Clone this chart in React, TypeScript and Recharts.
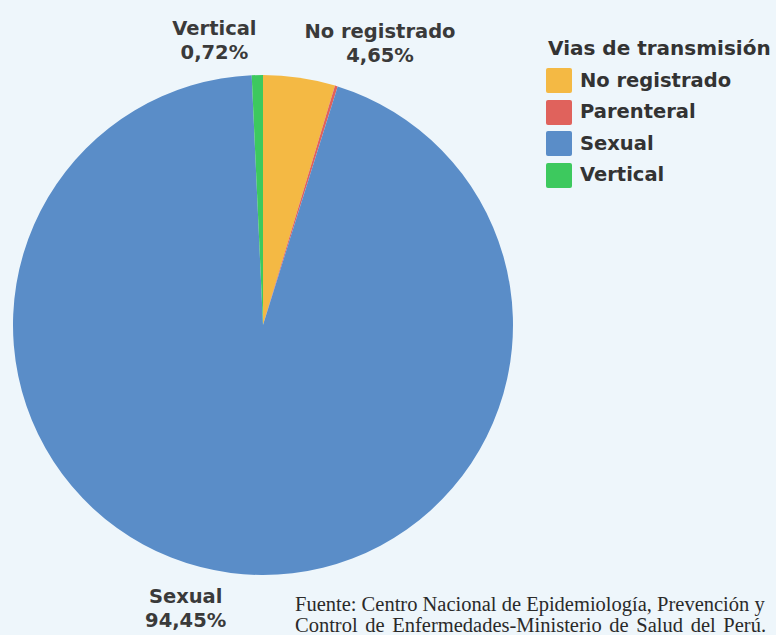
import React from 'react';
import { PieChart, Pie, Cell, Legend } from 'recharts';

const categories = ['No registrado', 'Parenteral', 'Sexual', 'Vertical'];
const percentages = [4.65, 0.18, 94.45, 0.72];
const sliceColors = ['#F4B944', '#E0625C', '#5A8DC8', '#3DC95E'];
const legendTitle = 'Vias de transmisión';
const sourceLines = [
  'Fuente: Centro Nacional de Epidemiología, Prevención y',
  'Control de Enfermedades-Ministerio de Salud del Perú.',
];

const data = categories.map((name, i) => ({ name, value: percentages[i] }));

const LABEL_FONT = '"DejaVu Sans", Verdana, sans-serif';
const LABEL_SIZE = 19.5;

let ctx: CanvasRenderingContext2D | null = null;
const measure = (s: string) => {
  if (!ctx) {
    const c = document.createElement('canvas');
    ctx = c.getContext('2d');
  }
  if (!ctx) return s.length * 11;
  ctx.font = `bold ${LABEL_SIZE}px ${LABEL_FONT}`;
  return ctx.measureText(s).width;
};

const fmt = (v: number) => v.toFixed(2).replace('.', ',') + '%';

const renderLabel = (p: any) => {
  const { cx, cy, midAngle, outerRadius, name, value } = p;
  if (value < 0.5) return null;
  const RAD = Math.PI / 180;
  const r = outerRadius + 35;
  const x = cx + r * Math.cos(-midAngle * RAD);
  const y = cy + r * Math.sin(-midAngle * RAD);
  const pct = fmt(value);
  const w = Math.max(measure(name), measure(pct));
  const center = x < cx ? x - w / 2 : x + w / 2;
  return (
    <text
      textAnchor="middle"
      fill="#3a3a3a"
      fontFamily={LABEL_FONT}
      fontWeight="bold"
      fontSize={LABEL_SIZE}
    >
      <tspan x={center} y={y - 5}>{name}</tspan>
      <tspan x={center} y={y + 19}>{pct}</tspan>
    </text>
  );
};

const LegendContent = (props: any) => {
  const payload = props.payload || [];
  return (
    <div style={{ fontFamily: LABEL_FONT, fontWeight: 'bold', color: '#333' }}>
      <div style={{ height: 31.75, lineHeight: '31.75px', fontSize: 20, paddingLeft: 2, whiteSpace: 'nowrap' }}>
        {legendTitle}
      </div>
      {payload.map((entry: any) => (
        <div
          key={entry.value}
          style={{ display: 'flex', alignItems: 'center', height: 31.5, whiteSpace: 'nowrap' }}
        >
          <span
            style={{
              display: 'inline-block',
              width: 26,
              height: 25,
              borderRadius: 2,
              background: entry.color,
              marginRight: 8,
            }}
          />
          <span style={{ fontSize: LABEL_SIZE, lineHeight: '31.5px' }}>{entry.value}</span>
        </div>
      ))}
    </div>
  );
};

export default function App() {
  return (
    <div
      style={{
        position: 'absolute',
        left: 0,
        top: 0,
        width: 776,
        height: 635,
        background: '#EEF6FB',
        overflow: 'hidden',
      }}
    >
      <PieChart width={776} height={635} margin={{ top: 0, right: 0, bottom: 0, left: 0 }}>
        <Pie
          data={data}
          dataKey="value"
          nameKey="name"
          cx={263}
          cy={325}
          outerRadius={250}
          startAngle={90}
          endAngle={-270}
          stroke="none"
          label={renderLabel}
          labelLine={false}
          isAnimationActive={false}
        >
          {data.map((d, i) => (
            <Cell key={d.name} fill={sliceColors[i]} />
          ))}
        </Pie>
        <Legend
          content={<LegendContent />}
          wrapperStyle={{ position: 'absolute', left: 546, top: 33, width: 230, height: 170 }}
        />
      </PieChart>
      <div
        style={{
          position: 'absolute',
          left: 295,
          top: 594,
          fontFamily: '"Liberation Serif", "Times New Roman", serif',
          fontSize: 20.5,
          lineHeight: '21px',
          color: '#2a2a2a',
          whiteSpace: 'nowrap',
        }}
      >
        {sourceLines.map((l, i) => (
          <div key={l} style={{ wordSpacing: i === 1 ? 2.5 : 0 }}>{l}</div>
        ))}
      </div>
    </div>
  );
}
